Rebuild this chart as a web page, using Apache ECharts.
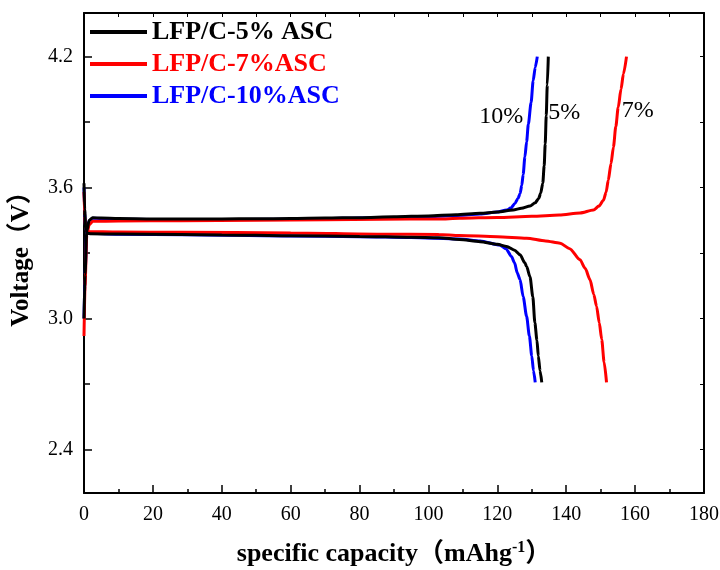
<!DOCTYPE html>
<html>
<head>
<meta charset="utf-8">
<script src="https://cdn.jsdelivr.net/npm/echarts@6/dist/echarts.min.js"></script>
<style>html,body{margin:0;padding:0;background:#fff}#c{width:720px;height:570px}</style>
</head>
<body>
<div id="c"></div>
<script>
// ---- data (capacity mAh/g, voltage V) ----
var seriesNames = ['LFP/C-5% ASC', 'LFP/C-7%ASC', 'LFP/C-10%ASC'];
var xTicks = [0, 20, 40, 60, 80, 100, 120, 140, 160, 180];
var yTickLabels = [2.4, 3.0, 3.6, 4.2];
var yMinorTicks = [2.7, 3.3, 3.9];

var charge5 = [[0,3.0],[0.3,3.2],[0.8,3.40],[1.5,3.45],[2.5,3.462],[5,3.46],[10,3.458],[20,3.456],[30,3.456],[40,3.456],[50,3.457],[60,3.458],[70,3.46],[80,3.462],[90,3.466],[100,3.47],[108,3.475],[115,3.482],[120,3.488],[124.6,3.497],[127,3.505],[129.5,3.515],[131,3.53],[132,3.55],[132.6,3.575],[133.2,3.62],[133.6,3.7],[133.9,3.8],[134.2,3.93],[134.5,4.07],[134.8,4.2]];
var discharge5 = [[0,3.62],[0.2,3.50],[0.5,3.41],[1,3.39],[2,3.388],[10,3.387],[28,3.385],[40,3.383],[60,3.379],[80,3.376],[95,3.372],[103,3.37],[109,3.362],[115,3.352],[120,3.34],[122.7,3.33],[125,3.313],[126.6,3.292],[128,3.255],[128.5,3.238],[129.5,3.19],[130.3,3.10],[130.9,2.98],[131.5,2.90],[131.9,2.828],[132.4,2.76],[132.9,2.707]];

var charge7 = [[0,2.92],[0.3,3.15],[0.8,3.38],[1.5,3.43],[2.5,3.445],[10,3.447],[28,3.448],[50,3.45],[70,3.452],[86,3.455],[103,3.456],[109,3.459],[120,3.463],[130,3.468],[138,3.474],[144,3.483],[147.9,3.497],[149.5,3.515],[150.8,3.542],[151.6,3.58],[152.2,3.633],[153,3.71],[153.7,3.785],[154.4,3.88],[155.1,3.968],[155.9,4.05],[156.6,4.12],[157.5,4.2]];
var discharge7 = [[0,3.58],[0.2,3.47],[0.5,3.41],[1,3.398],[10,3.396],[28,3.395],[60,3.392],[86,3.386],[103,3.385],[109,3.38],[120,3.375],[128.5,3.368],[134,3.355],[138.2,3.345],[141,3.32],[144,3.269],[145.5,3.23],[146.9,3.178],[148,3.11],[148.8,3.056],[149.6,2.98],[150.3,2.904],[151,2.80],[151.7,2.707]];

var charge10 = [[0,3.0],[0.3,3.2],[0.8,3.4],[1.5,3.448],[2.5,3.459],[10,3.455],[30,3.453],[60,3.455],[90,3.463],[100,3.467],[110,3.473],[115,3.479],[120,3.488],[122.7,3.497],[124,3.507],[125.1,3.527],[126,3.55],[126.6,3.573],[127.1,3.61],[127.5,3.66],[128,3.74],[128.5,3.81],[129,3.89],[129.8,3.99],[130.4,4.09],[131,4.15],[131.6,4.2]];
var discharge10 = [[0,3.6],[0.2,3.48],[0.5,3.41],[1,3.39],[10,3.386],[30,3.384],[60,3.378],[80,3.375],[95,3.371],[109,3.364],[115,3.355],[120.7,3.337],[122.5,3.32],[124.1,3.284],[125,3.255],[125.8,3.208],[126.6,3.178],[127.5,3.10],[128.5,3.01],[129.3,2.92],[130,2.828],[130.5,2.76],[131,2.707]];

var annotations = [[121.1,3.925,'10%'],[139.4,3.943,'5%'],[160.8,3.953,'7%']];

// ---- chart ----
var serif = "'Liberation Serif', 'Times New Roman', 'Noto Sans CJK SC', serif";
var colors = {'LFP/C-5% ASC':'#000000','LFP/C-7%ASC':'#ff0000','LFP/C-10%ASC':'#0000ff'};

function lineSeries(name, data, z) {
  return {
    type: 'line', name: name, data: data, xAxisIndex: 0, yAxisIndex: 0,
    showSymbol: false, symbol: 'none', smooth: 0.25, smoothMonotone: 'x',
    lineStyle: {color: colors[name], width: 3}, itemStyle: {color: colors[name]},
    z: z, silent: true, animation: false
  };
}

var chart = echarts.init(document.getElementById('c'), null, {renderer: 'canvas'});
chart.setOption({
  backgroundColor: '#fff',
  animation: false,
  grid: {left: 84, right: 16, top: 13, bottom: 77, containLabel: false, outerBoundsMode: 'none'},
  legend: {
    orient: 'vertical', left: 90, top: 19, itemGap: 6, padding: 0,
    itemWidth: 57, itemHeight: 4, icon: 'rect', selectedMode: false,
    textStyle: {fontFamily: serif, fontWeight: 'bold', fontSize: 26},
    data: seriesNames.map(function(n){ return {name: n, textStyle: {color: colors[n]}}; })
  },
  xAxis: [{
    type: 'value', position: 'bottom', min: xTicks[0], max: xTicks[xTicks.length-1], interval: 20,
    name: 'specific capacity（mAhg{sup|-1}）', nameLocation: 'middle', nameGap: 47,
    nameTextStyle: {fontFamily: serif, fontWeight: 'bold', fontSize: 26, color: '#000',
      rich: {sup: {fontFamily: serif, fontWeight: 'bold', fontSize: 16, color: '#000', verticalAlign: 'top', padding: [0,0,12,0]}}},
    axisLine: {show: true, onZero: false, lineStyle: {color: '#000', width: 2}},
    axisTick: {show: true, inside: true, length: 8, lineStyle: {color: '#000', width: 1.5}},
    minorTick: {show: true, splitNumber: 2, length: 4, lineStyle: {color: '#000', width: 1.5}},
    axisLabel: {fontFamily: serif, fontSize: 20, color: '#000', margin: 12},
    splitLine: {show: false}
  }, {
    type: 'value', position: 'top', min: 0, max: 180, interval: 10,
    axisLine: {show: true, onZero: false, lineStyle: {color: '#000', width: 2}},
    axisTick: {show: true, inside: true, length: 4, lineStyle: {color: '#000', width: 1}},
    axisLabel: {show: false}, splitLine: {show: false}
  }],
  yAxis: [{
    type: 'value', position: 'left', min: 2.2, max: 4.4,
    name: 'Voltage（V）', nameLocation: 'middle', nameGap: 50,
    nameTextStyle: {fontFamily: serif, fontWeight: 'bold', fontSize: 25, color: '#000'},
    axisLine: {show: true, onZero: false, lineStyle: {color: '#000', width: 2}},
    axisTick: {show: true, inside: true, length: 8, customValues: yTickLabels, lineStyle: {color: '#000', width: 1.5}},
    axisLabel: {fontFamily: serif, fontSize: 20, color: '#000', margin: 11, customValues: yTickLabels,
      formatter: function(v){ return v.toFixed(1); }},
    splitLine: {show: false}
  }, {
    type: 'value', position: 'left', min: 2.2, max: 4.4,
    axisLine: {show: false},
    axisTick: {show: true, inside: true, length: 6, customValues: yMinorTicks, lineStyle: {color: '#000', width: 1.5}},
    axisLabel: {show: false}, splitLine: {show: false}
  }, {
    type: 'value', position: 'right', min: 2.2, max: 4.4,
    axisLine: {show: true, onZero: false, lineStyle: {color: '#000', width: 2}},
    axisTick: {show: true, inside: true, length: 4, customValues: yTickLabels.concat(yMinorTicks), lineStyle: {color: '#000', width: 1}},
    axisLabel: {show: false}, splitLine: {show: false}
  }],
  series: [
    lineSeries('LFP/C-10%ASC', charge10, 2),
    lineSeries('LFP/C-10%ASC', discharge10, 2),
    lineSeries('LFP/C-7%ASC', charge7, 3),
    lineSeries('LFP/C-7%ASC', discharge7, 3),
    lineSeries('LFP/C-5% ASC', charge5, 4),
    lineSeries('LFP/C-5% ASC', discharge5, 4),
    {
      type: 'scatter', name: 'annot', xAxisIndex: 0, yAxisIndex: 0, silent: true,
      symbolSize: 0, data: annotations, z: 5, itemStyle: {opacity: 0},
      label: {show: true, position: 'inside', fontFamily: serif, fontSize: 24, color: '#000',
        opacity: 1, textBorderWidth: 0, formatter: function(p){ return p.value[2]; }}
    }
  ]
});
</script>
</body>
</html>
